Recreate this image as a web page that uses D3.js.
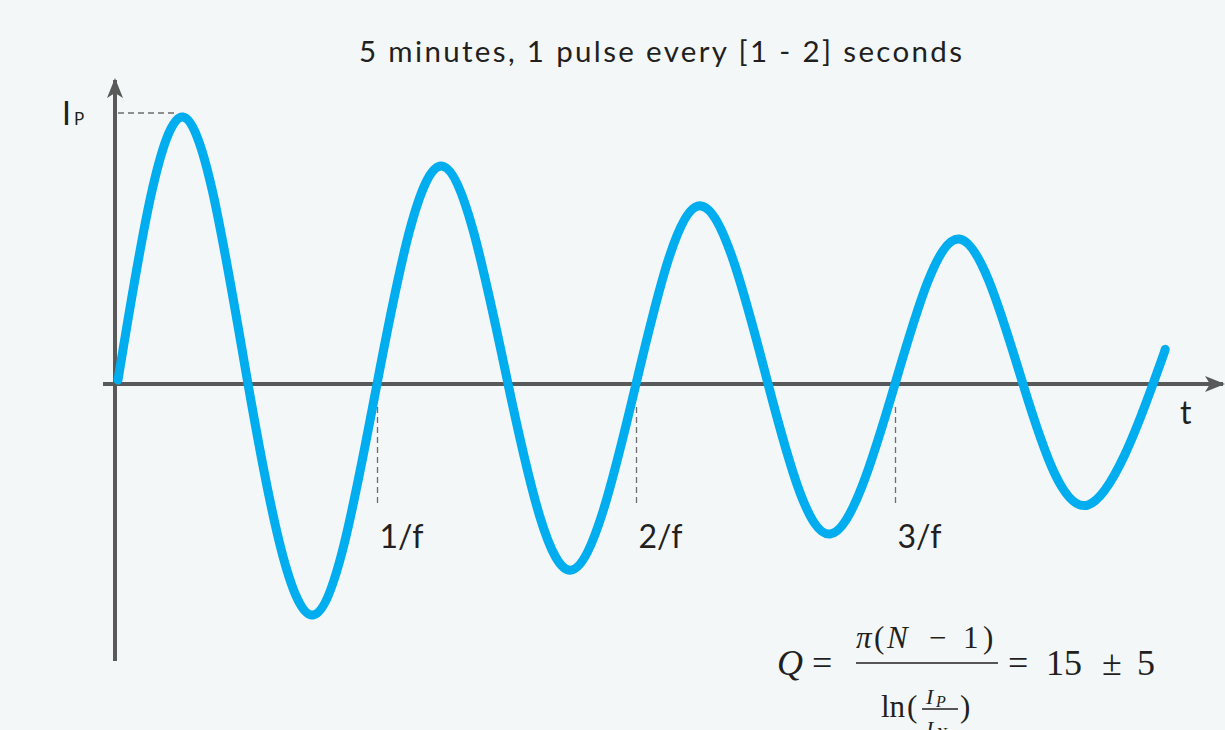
<!DOCTYPE html>
<html>
<head>
<meta charset="utf-8">
<script src="https://cdn.jsdelivr.net/npm/d3@7"></script>
<style>
  html, body { margin: 0; padding: 0; background: #f3f7f8; }
  svg { display: block; }
</style>
</head>
<body>
<svg id="chart" width="1225" height="730"></svg>
<script>
// ---- data ----
// time in units of the period 1/f, current normalised to the first peak I_P = 1
const waveT = [0, 0.251, 0.502, 0.753, 1.0, 1.251, 1.506, 1.749, 2.0, 2.251, 2.51, 2.749, 3.0, 3.247, 3.494, 3.745, 3.996, 4.042];
const waveI = [0.015, 1, 0, -0.865, 0, 0.816, 0, -0.697, 0, 0.667, 0, -0.562, 0, 0.543, 0, -0.453, 0, 0.127];
const tickValues = [1, 2, 3];
const tickLabels = ["1/f", "2/f", "3/f"];
const titleText = "5 minutes, 1 pulse every [1 - 2] seconds";
const xAxisLabel = "t";
const peakLabel = "I";
const peakLabelSub = "P";

const svg = d3.select("#chart");
const W = 1225, H = 730;

svg.append("rect").attr("width", W).attr("height", H).attr("fill", "#f3f7f8");

const x = d3.scaleLinear().domain([0, 4]).range([118, 1154]);
const y = d3.scaleLinear().domain([-1, 1]).range([651, 117]);

const axisColor = "#595959";
const textColor = "#231f20";
const sansFont = "Lato, 'Open Sans', sans-serif";
const y0 = y(0);
const axisX = x(0) - 3;

// title
svg.append("text")
  .attr("x", 359).attr("y", 62)
  .attr("font-family", sansFont)
  .attr("font-size", 29.5)
  .attr("fill", textColor)
  .attr("textLength", 603)
  .attr("lengthAdjust", "spacing")
  .text(titleText);

// arrow marker
const defs = svg.append("defs");
defs.append("marker")
  .attr("id", "arrow")
  .attr("viewBox", "0 0 20 16")
  .attr("refX", 18).attr("refY", 8)
  .attr("markerWidth", 20).attr("markerHeight", 16)
  .attr("markerUnits", "userSpaceOnUse")
  .attr("orient", "auto")
  .append("path")
  .attr("d", "M0,0 L20,8 L0,16 L5,8 Z")
  .attr("fill", axisColor);

// horizontal axis line
svg.append("line")
  .attr("x1", 103).attr("y1", y0)
  .attr("x2", 1223).attr("y2", y0)
  .attr("stroke", axisColor).attr("stroke-width", 4)
  .attr("marker-end", "url(#arrow)");

// vertical axis line
svg.append("line")
  .attr("x1", axisX).attr("y1", 661)
  .attr("x2", axisX).attr("y2", 80)
  .attr("stroke", axisColor).attr("stroke-width", 4)
  .attr("marker-end", "url(#arrow)");

// tick axis (dashed guides + labels)
const tickAxis = d3.axisBottom(x)
  .tickValues(tickValues)
  .tickFormat((d, i) => tickLabels[i])
  .tickSizeInner(122)
  .tickSizeOuter(0)
  .tickPadding(0);

const gTicks = svg.append("g")
  .attr("transform", `translate(0,${y0})`)
  .call(tickAxis);
gTicks.select(".domain").remove();
gTicks.selectAll(".tick line")
  .attr("y1", 23)
  .attr("stroke", "#6e6e6e")
  .attr("stroke-width", 1.3)
  .attr("stroke-dasharray", "6,4");
gTicks.selectAll(".tick text")
  .attr("y", 164)
  .attr("dy", null)
  .attr("x", 2)
  .attr("text-anchor", "start")
  .attr("font-family", sansFont)
  .attr("font-size", 32)
  .attr("fill", textColor);

// I_P dashed reference line
svg.append("line")
  .attr("x1", axisX + 3).attr("x2", x(waveT[1]) - 8)
  .attr("y1", y(1) - 4).attr("y2", y(1) - 4)
  .attr("stroke", "#6e6e6e").attr("stroke-width", 1.3)
  .attr("stroke-dasharray", "6,4");

// I_P label
const ip = svg.append("text")
  .attr("x", 62).attr("y", 125)
  .attr("font-family", sansFont)
  .attr("fill", textColor);
ip.append("tspan").attr("font-size", 32).text(peakLabel);
ip.append("tspan").attr("font-size", 17).attr("dx", 3).text(peakLabelSub);

// t label
svg.append("text")
  .attr("x", 1180).attr("y", 424)
  .attr("font-family", sansFont)
  .attr("font-size", 32)
  .attr("fill", textColor)
  .text(xAxisLabel);

// wave
const pts = waveT.map((t, i) => [t, waveI[i]]);
const line = d3.line()
  .x(d => x(d[0]))
  .y(d => y(d[1]))
  .curve(d3.curveNatural);
svg.append("path")
  .datum(pts)
  .attr("d", line)
  .attr("fill", "none")
  .attr("stroke", "#00adef")
  .attr("stroke-width", 9)
  .attr("stroke-linecap", "round")
  .attr("stroke-linejoin", "round");

// formula
const mathFont = "'Liberation Serif', 'DejaVu Serif', serif";
const f = svg.append("g").attr("font-family", mathFont).attr("fill", textColor);
function mt(xp, yp, size, str, italic) {
  return f.append("text").attr("x", xp).attr("y", yp).attr("font-size", size)
    .attr("font-style", italic ? "italic" : "normal").text(str);
}
mt(777, 675, 36, "Q", true);
mt(812, 675, 36, "=", false);
// numerator
mt(856, 648, 31, "π", true);
mt(874, 648, 31, "(", false);
mt(887, 648, 31, "N", true);
mt(929, 648, 31, "−", false);
mt(963, 648, 31, "1", false);
mt(983, 648, 31, ")", false);
// fraction bar
f.append("line").attr("x1", 856).attr("x2", 998).attr("y1", 663).attr("y2", 663)
  .attr("stroke", textColor).attr("stroke-width", 1.6);
// denominator
mt(881, 717, 31, "ln", false);
mt(907, 717, 31, "(", false);
mt(926, 704, 22, "I", true);
mt(936, 707, 16, "P", true);
f.append("line").attr("x1", 922).attr("x2", 958).attr("y1", 709).attr("y2", 709)
  .attr("stroke", textColor).attr("stroke-width", 1.3);
mt(926, 736, 22, "I", true);
mt(936, 739, 16, "N", true);
mt(960, 717, 31, ")", false);
// right side
mt(1008, 675, 36, "=", false);
mt(1046, 675, 36, "15", false);
mt(1102, 675, 36, "±", false);
mt(1137, 675, 36, "5", false);
</script>
</body>
</html>
